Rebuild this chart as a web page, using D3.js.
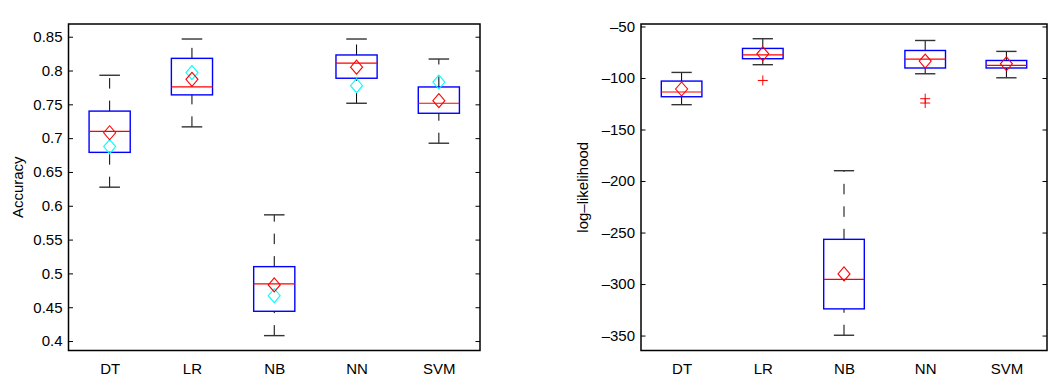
<!DOCTYPE html>
<html><head><meta charset="utf-8">
<script src="https://cdn.jsdelivr.net/npm/d3@7"></script>
<style>
body{margin:0;background:#fff}
text{font-family:"Liberation Sans",Arial,Helvetica,sans-serif}
</style>
</head><body>
<svg id="chart" width="1049" height="383"></svg>
<script>
const categories = ["DT", "LR", "NB", "NN", "SVM"];

// Left panel: Accuracy
const accLow  = [0.6275, 0.7167, 0.408, 0.7516, 0.6925];
const accQ1   = [0.679, 0.764, 0.444, 0.7886, 0.7368];
const accMed  = [0.710, 0.7757, 0.4846, 0.811, 0.7516];
const accQ3   = [0.740, 0.818, 0.510, 0.823, 0.7757];
const accHigh = [0.793, 0.8466, 0.5866, 0.8466, 0.817];
const accMean = [0.708, 0.787, 0.483, 0.805, 0.7554];
const accCyan = [0.6875, 0.797, 0.467, 0.7776, 0.783];
const accOutliers = [[], [], [], [], []];
const accTicks = [0.4, 0.45, 0.5, 0.55, 0.6, 0.65, 0.7, 0.75, 0.8, 0.85];

// Right panel: log-likelihood
const llLow  = [-125.9, -87.1, -349.7, -95.9, -99.8];
const llQ1   = [-118.2, -81.3, -324.1, -90.3, -90.3];
const llMed  = [-113.6, -77.5, -295.4, -81.6, -87.8];
const llQ3   = [-103.0, -71.3, -256.6, -73.3, -83.0];
const llHigh = [-94.6, -61.9, -190.0, -63.6, -74.2];
const llMean = [-110.7, -76.5, -290.2, -83.6, -86.2];
const llOutliers = [[], [-102.4], [], [-120.1, -124.3], []];
const llTicks = [-350, -300, -250, -200, -150, -100, -50];

const svg = d3.select("#chart");

function fmt(v) { return String(v).replace("-", "\u2013"); }

function panel(cfg) {
  const g = svg.append("g");
  const x = d3.scalePoint().domain(categories).range([cfg.x0, cfg.x1]).padding(0.5);
  const y = d3.scaleLinear().domain(cfg.domain).range([cfg.y1, cfg.y0]);
  const step = x.step();
  const bw = step * 0.25, cw = step * 0.125;

  // axes
  const yl = g.append("g").attr("transform", `translate(${cfg.x0},0)`)
    .call(d3.axisLeft(y).tickValues(cfg.ticks).tickFormat(fmt).tickSizeInner(-4.5).tickSizeOuter(0).tickPadding(6));
  yl.select(".domain").remove();
  yl.selectAll("line").attr("stroke", "#000");
  yl.selectAll("text").attr("font-size", 15).attr("fill", "#000");
  const yr = g.append("g").attr("transform", `translate(${cfg.x1},0)`)
    .call(d3.axisRight(y).tickValues(cfg.ticks).tickFormat("").tickSizeInner(-4.5).tickSizeOuter(0));
  yr.select(".domain").remove();
  yr.selectAll("line").attr("stroke", "#000");
  const xa = g.append("g").attr("transform", `translate(0,${cfg.y1})`)
    .call(d3.axisBottom(x).tickSize(0).tickPadding(13));
  xa.select(".domain").remove();
  xa.selectAll("text").attr("font-size", 15).attr("fill", "#000");

  g.append("text").attr("transform", `translate(${cfg.labelX},${(cfg.y0 + cfg.y1) / 2}) rotate(-90)`)
    .attr("text-anchor", "middle").attr("font-size", 15).attr("fill", "#000").text(cfg.label);

  const idx = d3.range(categories.length);
  const items = g.append("g");
  // whiskers (dashed), drawn from lower value to higher value
  items.selectAll(".wu").data(idx).join("line")
    .attr("x1", i => x(categories[i])).attr("x2", i => x(categories[i]))
    .attr("y1", i => y(cfg.q3[i])).attr("y2", i => y(cfg.high[i]))
    .attr("stroke", "#000").attr("stroke-width", 1).attr("stroke-dasharray", "10.5,12");
  items.selectAll(".wl").data(idx).join("line")
    .attr("x1", i => x(categories[i])).attr("x2", i => x(categories[i]))
    .attr("y1", i => y(cfg.low[i])).attr("y2", i => y(cfg.q1[i]))
    .attr("stroke", "#000").attr("stroke-width", 1).attr("stroke-dasharray", "10.5,12");
  // caps
  for (const key of ["low", "high"]) {
    items.selectAll(".c" + key).data(idx).join("line")
      .attr("x1", i => x(categories[i]) - cw).attr("x2", i => x(categories[i]) + cw)
      .attr("y1", i => y(cfg[key][i])).attr("y2", i => y(cfg[key][i]))
      .attr("stroke", "#333").attr("stroke-width", 1.4);
  }
  // boxes
  items.selectAll(".box").data(idx).join("rect")
    .attr("x", i => x(categories[i]) - bw).attr("width", 2 * bw)
    .attr("y", i => y(cfg.q3[i])).attr("height", i => y(cfg.q1[i]) - y(cfg.q3[i]))
    .attr("fill", "none").attr("stroke", "#0000ff").attr("stroke-width", 1.4);
  // medians
  items.selectAll(".med").data(idx).join("line")
    .attr("x1", i => x(categories[i]) - bw).attr("x2", i => x(categories[i]) + bw)
    .attr("y1", i => y(cfg.med[i])).attr("y2", i => y(cfg.med[i]))
    .attr("stroke", "#ff0000").attr("stroke-width", 1.2);
  // outliers
  const outs = [];
  cfg.outliers.forEach((arr, i) => arr.forEach(v => outs.push({ c: categories[i], v })));
  items.selectAll(".out").data(outs).join("path")
    .attr("d", d => { const cx = x(d.c), cy = y(d.v); return `M${cx - 5},${cy}H${cx + 5}M${cx},${cy - 5}V${cy + 5}`; })
    .attr("stroke", "#ff0000").attr("stroke-width", 1).attr("fill", "none");
  const diamond = (cx, cy) => `M${cx},${cy - 7}L${cx + 6},${cy}L${cx},${cy + 7}L${cx - 6},${cy}Z`;
  if (cfg.cyan) {
    items.selectAll(".cy").data(idx).join("path")
      .attr("d", i => diamond(x(categories[i]), y(cfg.cyan[i])))
      .attr("fill", "none").attr("stroke", "#00ffff").attr("stroke-width", 1.1);
  }
  items.selectAll(".mn").data(idx).join("path")
    .attr("d", i => diamond(x(categories[i]), y(cfg.mean[i])))
    .attr("fill", "none").attr("stroke", "#ff0000").attr("stroke-width", 1.1);

  // frame
  g.append("rect").attr("x", cfg.x0).attr("y", cfg.y0)
    .attr("width", cfg.x1 - cfg.x0).attr("height", cfg.y1 - cfg.y0)
    .attr("fill", "none").attr("stroke", "#000").attr("stroke-width", 1.5);
}

panel({
  x0: 68.5, x1: 480, y0: 24, y1: 350.5, domain: [0.386, 0.8688],
  ticks: accTicks, label: "Accuracy", labelX: 22.5,
  low: accLow, q1: accQ1, med: accMed, q3: accQ3, high: accHigh,
  mean: accMean, cyan: accCyan, outliers: accOutliers
});
panel({
  x0: 641, x1: 1047, y0: 24, y1: 350.5, domain: [-364.5, -47.6],
  ticks: llTicks, label: "log\u2013likelihood", labelX: 588,
  low: llLow, q1: llQ1, med: llMed, q3: llQ3, high: llHigh,
  mean: llMean, cyan: null, outliers: llOutliers
});
</script>
</body></html>
